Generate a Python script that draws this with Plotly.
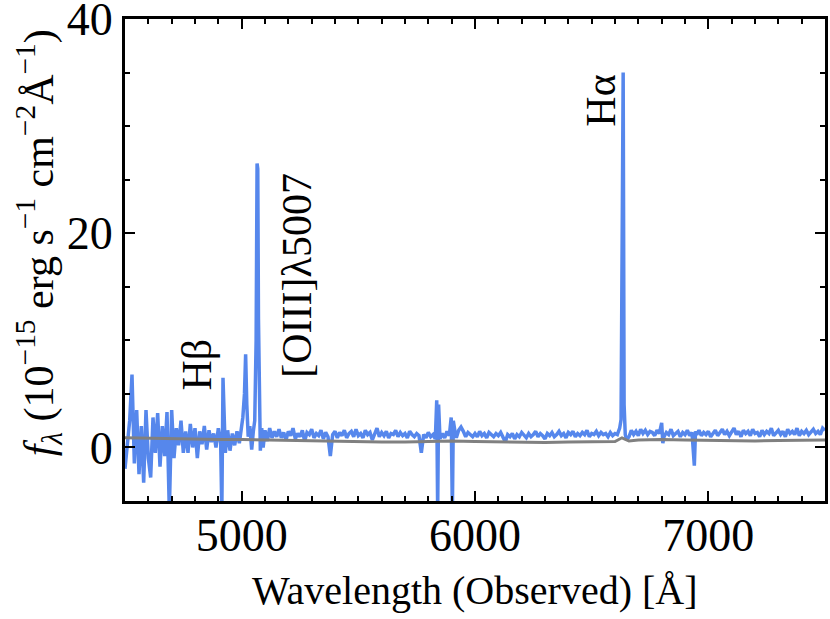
import plotly.graph_objects as go

# observed-frame spectrum (flux in 1e-15 erg/s/cm2/A)
wave = [4500, 4510, 4520, 4530, 4540, 4550, 4560, 4570, 4580, 4590,
        4600, 4610, 4620, 4630, 4640, 4650, 4660, 4670, 4680, 4690,
        4700, 4710, 4720, 4730, 4740, 4750, 4760, 4770, 4780, 4790,
        4800, 4810, 4820, 4830, 4840, 4850, 4860, 4870, 4880, 4890,
        4900, 4910, 4915, 4920, 4925, 4930, 4940, 4950, 4960, 4970,
        4980, 4990, 5000, 5005, 5012, 5017, 5022, 5028, 5035, 5043,
        5050, 5056, 5062, 5066, 5069, 5072, 5076, 5080, 5086, 5092,
        5100, 5110, 5120, 5130, 5140, 5150, 5160, 5170, 5180, 5190,
        5200, 5210, 5220, 5230, 5240, 5250, 5260, 5270, 5280, 5290,
        5300, 5310, 5320, 5330, 5340, 5350, 5360, 5370, 5380, 5390,
        5400, 5410, 5420, 5430, 5440, 5450, 5460, 5470, 5480, 5490,
        5500, 5510, 5520, 5530, 5540, 5550, 5560, 5570, 5580, 5590,
        5600, 5610, 5620, 5630, 5640, 5650, 5660, 5670, 5680, 5690,
        5700, 5710, 5720, 5730, 5740, 5750, 5760, 5770, 5780, 5790,
        5800, 5810, 5820, 5830, 5836, 5840, 5844, 5850, 5860, 5870,
        5880, 5890, 5898, 5903, 5907, 5915, 5920, 5930, 5940, 5950,
        5960, 5970, 5980, 5990, 6000, 6010, 6020, 6030, 6040, 6050,
        6060, 6070, 6080, 6090, 6100, 6110, 6120, 6130, 6140, 6150,
        6160, 6170, 6180, 6190, 6200, 6210, 6220, 6230, 6240, 6250,
        6260, 6270, 6280, 6290, 6300, 6310, 6320, 6330, 6340, 6350,
        6360, 6370, 6380, 6390, 6400, 6410, 6420, 6430, 6440, 6450,
        6460, 6470, 6480, 6490, 6500, 6510, 6520, 6530, 6540, 6550,
        6560, 6570, 6580, 6590, 6600, 6610, 6620, 6626, 6631, 6635,
        6639, 6644, 6650, 6660, 6670, 6680, 6690, 6700, 6710, 6720,
        6730, 6740, 6750, 6760, 6770, 6780, 6790, 6800, 6805, 6810,
        6820, 6830, 6840, 6850, 6860, 6870, 6880, 6890, 6900, 6910,
        6920, 6930, 6940, 6945, 6950, 6960, 6970, 6980, 6990, 7000,
        7010, 7020, 7030, 7040, 7050, 7060, 7070, 7080, 7090, 7100,
        7110, 7120, 7130, 7140, 7150, 7160, 7170, 7180, 7190, 7200,
        7210, 7220, 7230, 7240, 7250, 7260, 7270, 7280, 7290, 7300,
        7310, 7320, 7330, 7340, 7350, 7360, 7370, 7380, 7390, 7400,
        7410, 7420, 7430, 7440, 7450, 7460, 7470, 7480, 7490, 7500]

flux = [-2.0, 0.5, 2.5, 6.8, -1.5, 3.5, -2.5, 2.0, -3.3, 3.5,
        -1.0, -2.8, 2.8, -0.5, 3.2, -1.8, 2.0, -0.8, 3.3, -6.0,
        3.5, -1.0, 1.8, 0.2, 2.5, -0.5, 1.5, -0.5, 2.2, 0.0,
        1.8, -1.0, 1.5, 0.3, 2.0, -0.2, 1.6, 0.5, 1.3, 0.0,
        1.8, 0.4, -6.0, 6.5, 1.0, -0.5, 1.6, -0.3, 1.3, 0.2,
        1.5, 0.4, 2.0, 2.8, 5.0, 8.7, 4.0, 1.0, 2.0, -0.2,
        1.5, 2.5, 10.0, 26.5, 26.0, 12.0, 3.0, -0.3, 1.8, 0.0,
        1.6, 0.6, 1.8, 0.9, 1.5, 1.0, 1.7, 0.9, 1.4, 0.7,
        1.5, 1.1, 1.8, 0.8, 1.3, 1.0, 1.6, 0.6, 1.4, 1.2,
        1.7, 0.9, 1.3, 1.1, 1.6, 0.8, 1.4, 1.0, -0.8, 1.2,
        1.5, 0.9, 1.4, 1.1, 1.6, 0.9, 1.3, 1.5, 1.0, 1.7,
        1.1, 1.3, 0.9, 1.6, 1.2, 1.4, 0.7, 1.3, 1.8, 1.0,
        1.4, 1.1, 1.5, 0.9, 1.3, 1.2, 1.6, 1.0, 1.4, 1.1,
        1.3, 0.9, 1.5, 1.2, 1.0, 1.3, 1.1, -0.5, 1.2, 0.9,
        1.4, 1.0, 1.2, 0.8, 4.4, -6.0, 4.0, 0.8, 1.3, 0.9,
        1.5, 1.1, 2.8, -6.0, 2.5, 1.4, 0.9, 1.6, 1.9, 1.5,
        1.0, 1.4, 1.2, 1.0, 1.3, 1.0, 1.5, 1.1, 1.3, 0.9,
        1.4, 1.2, 1.0, 1.3, 1.1, 1.4, 0.9, 0.5, 1.2, 1.0,
        1.3, 0.8, 1.2, 1.0, 1.4, 1.1, 0.9, 1.3, 1.0, 1.2,
        1.5, 1.0, 1.3, 1.1, 0.8, 1.3, 1.1, 1.4, 1.0, 1.2,
        1.5, 1.1, 1.3, 0.9, 1.4, 1.2, 1.5, 1.0, 1.3, 1.1,
        1.4, 1.2, 1.6, 1.0, 1.3, 1.2, 1.5, 1.1, 1.4, 1.2,
        1.3, 1.0, 1.4, 1.1, 1.3, 1.2, 1.8, 2.6, 27.5, 35.0,
        4.0, 1.2, 0.7, 1.0, 1.6, 1.2, 1.5, 1.1, 1.7, 1.3,
        1.6, 1.2, 1.5, 1.4, 1.1, 1.6, 1.3, 2.3, 0.4, 1.0,
        1.4, 1.2, 1.7, 1.1, 1.3, 1.5, 1.0, 1.4, 1.2, 1.6,
        1.1, 1.4, -1.7, 1.5, 1.2, 1.6, 1.1, 1.4, 1.2, 1.5,
        1.0, 1.3, 1.6, 1.1, 1.4, 1.7, 1.2, 1.5, 1.1, 1.4,
        1.8, 1.2, 1.5, 1.0, 1.6, 1.3, 1.5, 1.1, 1.7, 1.3,
        1.4, 1.0, 1.6, 1.2, 1.5, 1.3, 1.8, 1.1, 1.4, 1.6,
        1.2, 1.5, 1.0, 1.7, 1.3, 1.5, 1.2, 1.8, 1.1, 1.5,
        1.3, 1.6, 1.2, 1.4, 1.7, 1.3, 1.5, 1.2, 1.8, 1.6]

# error spectrum (gray)
err_wave = [4500, 4600, 4700, 4800, 4900, 5000, 5100, 5200, 5300, 5400,
            5500, 5600, 5700, 5800, 5900, 6000, 6100, 6200, 6300, 6400,
            6500, 6600, 6630, 6660, 6700, 6800, 6900, 7000, 7100, 7200,
            7300, 7400, 7500]
err_flux = [0.9, 0.85, 0.8, 0.8, 0.75, 0.75, 0.7, 0.65, 0.6, 0.6,
            0.55, 0.5, 0.5, 0.55, 0.6, 0.55, 0.5, 0.45, 0.45, 0.5,
            0.5, 0.55, 0.9, 0.6, 0.7, 0.75, 0.7, 0.65, 0.6, 0.6,
            0.65, 0.7, 0.7]

line_labels = ['Hβ', '[OIII]λ5007', 'Hα']
label_x = [4807, 5236, 6541]
label_y = [7.7, 16.1, 32.4]

serif = 'Liberation Serif'

fig = go.Figure()

fig.add_trace(go.Scatter(
    x=wave, y=flux, mode='lines',
    line=dict(color='#5687ec', width=3.5),
    showlegend=False
))

fig.add_trace(go.Scatter(
    x=err_wave, y=err_flux, mode='lines',
    line=dict(color='gray', width=3),
    showlegend=False
))

for txt, lx, ly in zip(line_labels, label_x, label_y):
    fig.add_annotation(x=lx, y=ly, text=txt, showarrow=False, textangle=-90,
                       xanchor='center', yanchor='middle',
                       font=dict(family=serif, size=42, color='black'))

# axis titles as paper annotations so they sit where the original has them
fig.add_annotation(x=0.5, y=-0.185, xref='paper', yref='paper',
                   text='Wavelength (Observed) [Å]', showarrow=False,
                   xanchor='center', yanchor='middle',
                   font=dict(family=serif, size=40, color='black'))
fig.add_annotation(x=-0.124, y=0.535, xref='paper', yref='paper',
                   text='<i>f</i><sub><i>λ</i></sub> (10<sup>−15</sup> erg s<sup>−1</sup> cm<sup>−2</sup>Å<sup>−1</sup>)',
                   showarrow=False, textangle=-90,
                   xanchor='center', yanchor='middle',
                   font=dict(family=serif, size=42, color='black'))

axis_style = dict(
    showline=True, linewidth=3, linecolor='black', mirror='allticks',
    ticks='inside', ticklen=10, tickwidth=2, tickcolor='black',
    showgrid=False, zeroline=False, ticklabeloverflow='allow',
    tickfont=dict(family=serif, size=46, color='black'),
)

fig.update_xaxes(
    range=[4500, 7500], dtick=1000, tick0=5000,
    minor=dict(dtick=100, ticks='inside', ticklen=5, tickwidth=1.5, tickcolor='black'),
    ticklabelstandoff=-8,
    **axis_style
)
fig.update_yaxes(
    range=[-5, 40], dtick=20, tick0=0,
    minor=dict(dtick=5, ticks='inside', ticklen=5, tickwidth=1.5, tickcolor='black'),
    ticklabelstandoff=0,
    **axis_style
)

fig.update_layout(
    width=830, height=619,
    margin=dict(l=125, r=5, t=19, b=118, autoexpand=False),
    plot_bgcolor='white', paper_bgcolor='white',
    font=dict(family=serif, color='black'),
)

fig.write_html("out.html", config={'displayModeBar': False},
               post_script="document.body.style.margin='0';")
